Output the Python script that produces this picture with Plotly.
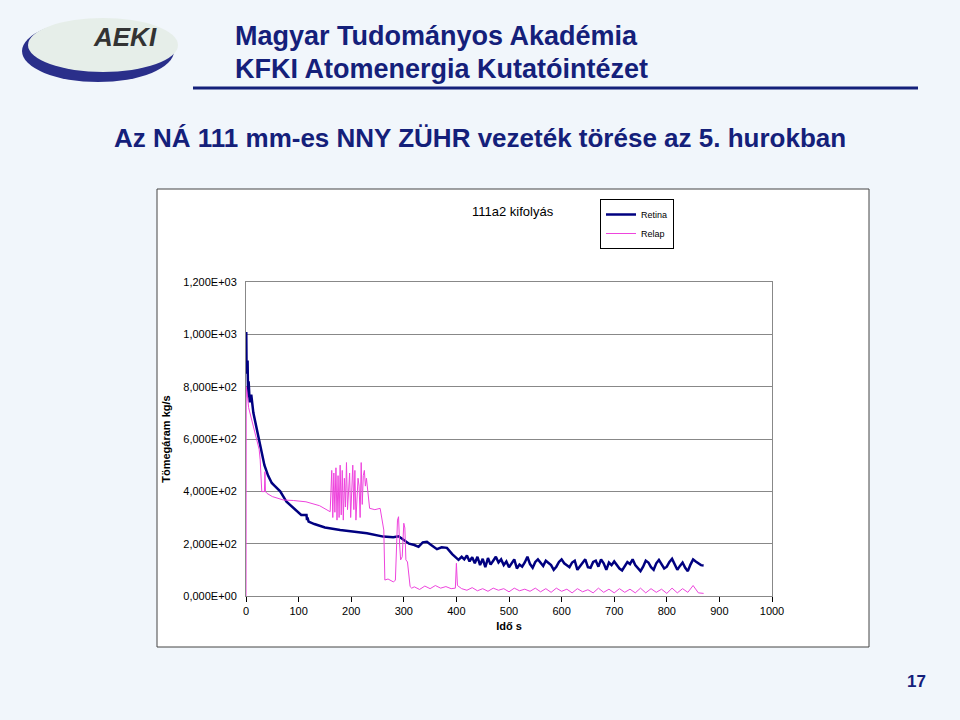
import plotly.graph_objects as go

retina_t = [0, 0.5, 1, 2, 3, 4, 5, 7, 10, 14, 17, 22, 28, 35, 42, 49, 55, 65, 77, 90, 105, 115, 116, 117, 119, 130, 150, 179, 200, 230, 261, 280, 290, 300, 310, 320, 328, 336, 344, 352, 363, 372, 382, 392, 404] + list(range(410, 875, 5))
retina_y = [900, 1009, 880, 850, 900, 760, 820, 740, 770, 700, 672, 620, 560, 500, 460, 432, 420, 400, 360, 335, 310, 310, 290, 300, 284, 275, 262, 252, 248, 240, 227, 225, 228, 215, 200, 195, 188, 205, 207, 195, 179, 186, 184, 160, 138,
            150, 140, 155, 132, 148, 125, 150, 118, 142, 110, 145, 120, 135, 150, 128, 140, 118, 132, 110,
            125, 140, 105, 120, 112, 128, 150, 122, 108, 130, 140, 125, 115, 135, 128, 118, 100, 112, 130, 140,
            125, 118, 110, 128, 135, 100, 115, 125, 140, 110, 108, 130, 135, 112, 140, 125, 100, 128, 118, 132,
            120, 105, 98, 115, 130, 122, 140, 118, 108, 95, 112, 135, 128, 110, 100, 125, 138, 120, 105, 112,
            130, 142, 118, 100, 115, 128, 108, 95, 120, 140, 132, 126, 118, 117]

relap_t = [0, 0.5, 2, 5, 10, 15, 20, 25, 27, 30, 35, 36, 37, 40, 50, 71, 90, 114, 140, 160,
           163, 165, 167, 169, 171, 173, 175, 177, 179, 181, 183, 185, 187, 189, 191, 193, 195, 197, 199, 201, 203, 205, 207, 209, 211, 213, 215, 217, 219, 221, 223, 225, 227, 229,
           235, 245, 255, 262, 264, 270, 280, 284, 288, 290, 292, 294, 297, 300, 302, 304, 307, 312, 315,
           320, 330, 340, 350, 360, 370, 380, 390, 398, 400, 402, 410] + list(range(420, 875, 10))
relap_y = [0, 800, 780, 720, 680, 640, 600, 560, 520, 399, 399, 475, 399, 392, 380, 367, 365, 360, 345, 322,
           480, 300, 470, 320, 490, 290, 460, 300, 500, 310, 480, 290, 450, 340, 510, 330, 400, 470, 300, 420, 500, 330, 480, 290, 350, 450, 420, 300, 510, 350, 460, 480, 420, 450,
           335, 330, 335, 252, 61, 65, 54, 60, 290, 303, 200, 138, 150, 278, 260, 138, 130, 36, 30,
           35, 25, 38, 28, 40, 30, 36, 28, 30, 125, 40, 28,
           22, 32, 20, 28, 18, 30, 22, 28, 16,
           30, 20, 26, 18, 30, 16, 28, 14, 30, 18,
           26, 12, 28, 16, 24, 12, 30, 14, 26, 12,
           28, 14, 26, 12, 30, 12, 28, 14, 26, 10,
           30, 12, 28, 14, 40, 12, 10]

y_ticks = [0, 200, 400, 600, 800, 1000, 1200]
y_labels = ["0,000E+00", "2,000E+02", "4,000E+02", "6,000E+02", "8,000E+02", "1,000E+03", "1,200E+03"]
x_ticks = [0, 100, 200, 300, 400, 500, 600, 700, 800, 900, 1000]

fig = go.Figure()
fig.add_trace(go.Scatter(x=retina_t, y=retina_y, mode="lines", name="Retina", line=dict(color="#000080", width=2.5)))
fig.add_trace(go.Scatter(x=relap_t, y=relap_y, mode="lines", name="Relap", line=dict(color="#ee44dd", width=1)))

W, H = 960, 720
X0, X1, Y0, Y1 = 246, 772, 282, 596
def px(x): return (x - X0) / (X1 - X0)
def py(y): return (Y1 - y) / (Y1 - Y0)

NAVY = "#14207a"
shapes = [
    dict(type="rect", xref="paper", yref="paper", x0=px(157), x1=px(869), y0=py(647), y1=py(189), line=dict(color="#444", width=1), fillcolor="white", layer="below"),
    dict(type="line", xref="paper", yref="paper", x0=px(193), x1=px(918), y0=py(88), y1=py(88), line=dict(color=NAVY, width=3)),
    dict(type="circle", xref="paper", yref="paper", x0=px(22), x1=px(174), y0=py(82), y1=py(20), line=dict(width=0), fillcolor="#2a2f8a"),
    dict(type="circle", xref="paper", yref="paper", x0=px(28), x1=px(178), y0=py(72), y1=py(18), line=dict(width=0), fillcolor="#e6eee9"),
]
def ann(text, x, y, size, color="black", family="Liberation Sans", anchor="center"):
    return dict(text=text, x=px(x), y=py(y), xref="paper", yref="paper", showarrow=False,
                font=dict(family=family, size=size, color=color), xanchor=anchor, yanchor="middle")
annotations = [
    ann("<b><i>AEKI</i></b>", 125, 37, 26, "#333"),
    ann("<b>Magyar Tudományos Akadémia</b>", 233, 36, 27, NAVY, anchor="left"),
    ann("<b>KFKI Atomenergia Kutatóintézet</b>", 233, 69, 27, NAVY, anchor="left"),
    ann("<b>Az NÁ 111 mm-es NNY ZÜHR vezeték törése az 5. hurokban</b>", 480, 138, 26, NAVY),
    ann("111a2 kifolyás", 513, 211, 13),
    ann("<b>17</b>", 916, 681, 17, NAVY),
]

fig.update_layout(
    width=W, height=H,
    margin=dict(l=X0, r=W - X1, t=Y0, b=H - Y1),
    paper_bgcolor="#f1f6fb", plot_bgcolor="white",
    shapes=shapes, annotations=annotations,
    font=dict(family="Liberation Sans", size=11, color="black"),
    legend=dict(x=px(600), y=py(199), xanchor="left", yanchor="top",
                bordercolor="black", borderwidth=1, bgcolor="white", font=dict(size=9),
                itemwidth=30, tracegroupgap=0),
    xaxis=dict(range=[0, 1000], tickvals=x_ticks, showgrid=False, zeroline=False,
               showline=True, linecolor="#888", mirror=True, ticks="outside", ticklen=5, tickcolor="black",
               title=dict(text="<b>Idő s</b>", font=dict(size=11), standoff=6)),
    yaxis=dict(range=[0, 1200], tickvals=y_ticks, ticktext=y_labels, showgrid=True, gridcolor="#888", gridwidth=1,
               zeroline=False, showline=True, linecolor="#888", mirror=True, ticks="", ticklabelstandoff=6,
               title=dict(text="<b>Tömegáram kg/s</b>", font=dict(size=11), standoff=10)),
)
fig.write_html("out.html", config={"displayModeBar": False}, post_script="document.body.style.margin='0';")
